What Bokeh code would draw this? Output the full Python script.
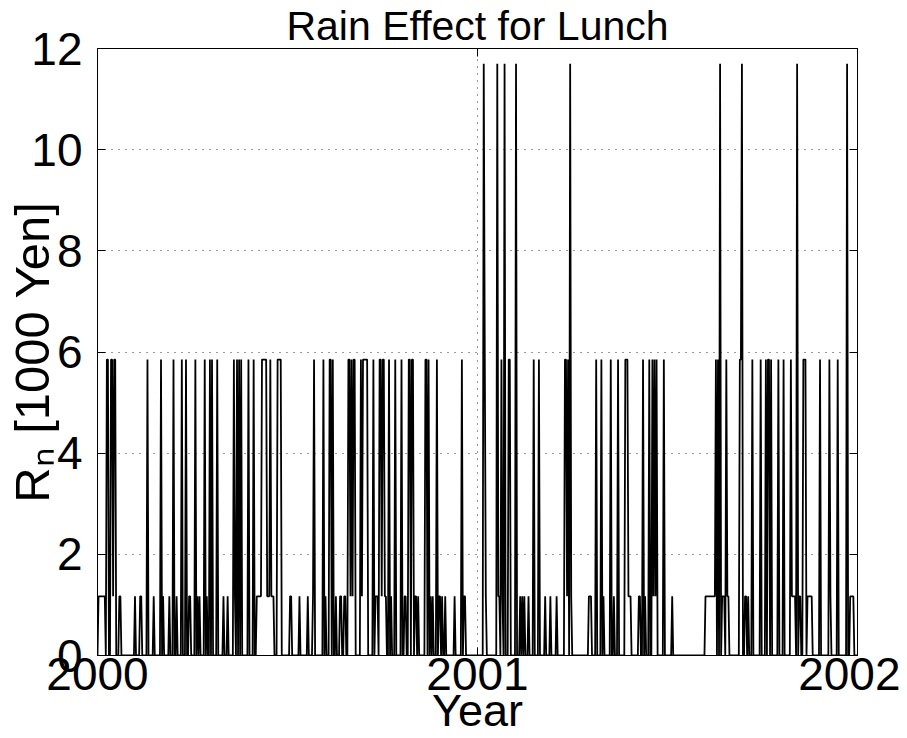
import numpy as np
from bokeh.plotting import figure
from bokeh.models import Range1d, FixedTicker, LinearAxis
from bokeh.embed import file_html
from bokeh.resources import INLINE

# ---- data ----
n_days = 731
start_year = 2000
days_per_year = 365
level_values = [0.0, 1.17, 5.85, 11.7]
x_ticks = [2000, 2001, 2002]
y_ticks = [0, 2, 4, 6, 8, 10, 12]

# day indices (from 1 Jan 2000) at each non-zero level
days_level_117 = [1, 2, 3, 4, 5, 6, 7, 15, 21, 22, 36, 41, 42, 54, 63, 69, 76, 88, 89,
                  96, 98, 105, 121, 125, 132, 153, 154, 155, 156, 157, 163, 164, 165,
                  167, 168, 169, 185, 186, 194, 202, 207, 219, 229, 233, 234, 237, 238,
                  243, 245, 254, 267, 268, 269, 273, 276, 277, 282, 295, 296, 305, 306,
                  308, 320, 322, 328, 329, 331, 334, 343, 352, 353, 373, 385, 386, 389,
                  406, 408, 410, 414, 430, 435, 441, 451, 455, 472, 473, 474, 486, 496,
                  510, 511, 512, 520, 521, 526, 534, 536, 552, 584, 585, 586, 587, 588,
                  589, 590, 591, 592, 593, 600, 601, 602, 605, 606, 622, 623, 625, 667,
                  668, 669, 670, 674, 675, 682, 683, 684, 685, 686, 704, 723, 724, 725, 726]
days_level_585 = [9, 10, 13, 14, 16, 17, 48, 61, 73, 81, 85, 94, 103, 108, 110, 115,
                  131, 134, 136, 138, 145, 150, 158, 159, 160, 161, 162, 166, 173, 174,
                  175, 176, 208, 217, 223, 224, 226, 241, 242, 244, 246, 247, 253, 255,
                  256, 257, 258, 259, 265, 271, 272, 274, 275, 280, 286, 292, 299, 300,
                  302, 303, 315, 316, 318, 326, 350, 372, 388, 395, 396, 419, 424, 449,
                  450, 452, 479, 484, 493, 500, 507, 508, 509, 524, 530, 533, 535, 537,
                  544, 594, 596, 604, 617, 618, 629, 637, 642, 644, 645, 647, 654, 659,
                  666, 678, 679, 680, 694, 703, 711]
days_level_1170 = [371, 384, 391, 402, 454, 598, 619, 672, 720]

# ---- build daily series ----
vals = np.zeros(n_days)
vals[days_level_117] = level_values[1]
vals[days_level_585] = level_values[2]
vals[days_level_1170] = level_values[3]
xs = start_year + np.arange(n_days) / days_per_year

FONT = "Liberation Sans"

p = figure(width=900, height=738, x_range=Range1d(2000, 2002), y_range=Range1d(0, 12),
           output_backend="svg", toolbar_location=None,
           min_border_left=97, min_border_right=43, min_border_top=45, min_border_bottom=83)
p.background_fill_color = "white"
p.border_fill_color = "white"
p.outline_line_color = "black"
p.outline_line_width = 1

p.title.text = "Rain Effect for Lunch"
p.title.align = "center"
p.title.text_font = FONT
p.title.text_font_size = "41px"
p.title.text_font_style = "normal"
p.title.text_color = "black"
p.title.standoff = 0

p.line(xs, vals, line_color="black", line_width=1.8)

for ax in (p.xaxis[0], p.yaxis[0]):
    ax.major_tick_in = 8
    ax.major_tick_out = 0
    ax.minor_tick_line_color = None
    ax.axis_line_color = "black"
    ax.major_tick_line_color = "black"
    ax.major_label_text_font = FONT
    ax.major_label_text_font_size = "46px"
    ax.major_label_text_color = "black"
    ax.axis_label_text_font = FONT
    ax.axis_label_text_font_style = "normal"
    ax.axis_label_text_color = "black"

p.xaxis.ticker = FixedTicker(ticks=x_ticks)
p.yaxis.ticker = FixedTicker(ticks=y_ticks)
p.xaxis.major_label_standoff = 2
p.yaxis.major_label_standoff = 15
p.xaxis.axis_label = "Year"
p.xaxis.axis_label_text_font_size = "45px"
p.xaxis.axis_label_standoff = -8
p.yaxis.axis_label = "Rₙ [1000 Yen]"
p.yaxis.axis_label_text_font_size = "49px"
p.yaxis.axis_label_standoff = -31

for loc, tk in (("right", y_ticks), ("above", x_ticks)):
    ax = LinearAxis(ticker=FixedTicker(ticks=tk), major_label_text_font_size="1px",
                    major_label_text_color=None, major_label_standoff=0,
                    major_tick_in=8, major_tick_out=0,
                    minor_tick_line_color=None, axis_line_color="black")
    p.add_layout(ax, loc)

p.xgrid.ticker = FixedTicker(ticks=x_ticks)
p.ygrid.ticker = FixedTicker(ticks=y_ticks)
for g in (p.xgrid[0], p.ygrid[0]):
    g.grid_line_color = "#333333"
    g.grid_line_dash = "1 6"
    g.grid_line_width = 1

open("out.html", "w").write(file_html(p, INLINE))
